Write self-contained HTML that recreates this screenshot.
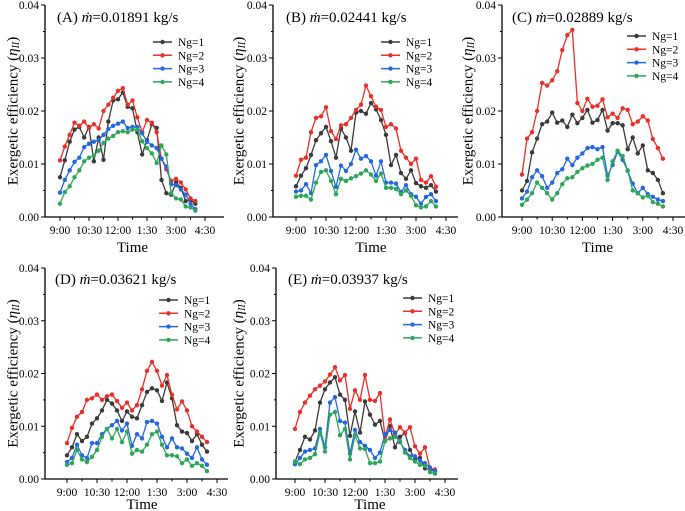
<!DOCTYPE html>
<html><head><meta charset="utf-8"><style>
html,body{margin:0;padding:0;background:#fff;}
svg{display:block;font-family:"Liberation Serif",serif;}
</style></head><body>
<svg id="chart" width="685" height="511" viewBox="0 0 685 511" xmlns="http://www.w3.org/2000/svg"></svg>
<script>
const tickLabels = ["9:00","10:30","12:00","1:30","3:00","4:30"];
const yTicks = [0,0.01,0.02,0.03,0.04];
const seriesNames = ["Ng=1","Ng=2","Ng=3","Ng=4"];
const panelTitles = ["(A) ","(B) ","(C) ","(D) ","(E) "];
const flowRates = ["0.01891","0.02441","0.02889","0.03621","0.03937"];

const A1=[0.0075,0.0107,0.0142,0.0165,0.0170,0.0150,0.0170,0.0105,0.0150,0.0108,0.0180,0.0220,0.0222,0.0235,0.0208,0.0205,0.0160,0.0118,0.0145,0.0175,0.0168,0.0070,0.0045,0.0042,0.0065,0.0055,0.0030,0.0032,0.0025];
const A2=[0.0107,0.0133,0.0155,0.0178,0.0172,0.0180,0.0168,0.0175,0.0167,0.0200,0.0212,0.0225,0.0238,0.0243,0.0212,0.0220,0.0188,0.0160,0.0183,0.0178,0.0160,0.0110,0.0090,0.0068,0.0072,0.0065,0.0052,0.0035,0.0030];
const A3=[0.0046,0.0070,0.0088,0.0104,0.0112,0.0132,0.0138,0.0142,0.0145,0.0155,0.0166,0.0172,0.0176,0.0180,0.0168,0.0170,0.0170,0.0158,0.0142,0.0135,0.0130,0.0110,0.0095,0.0062,0.0060,0.0052,0.0042,0.0025,0.0015];
const A4=[0.0025,0.0047,0.0058,0.0075,0.0088,0.0105,0.0112,0.0116,0.0125,0.0140,0.0148,0.0153,0.0160,0.0162,0.0160,0.0165,0.0165,0.0143,0.0130,0.0120,0.0102,0.0135,0.0118,0.0045,0.0035,0.0033,0.0020,0.0018,0.0012];
const B1=[0.0058,0.0078,0.0092,0.0117,0.0145,0.0158,0.0170,0.0143,0.0112,0.0167,0.0150,0.0125,0.0197,0.0200,0.0195,0.0215,0.0203,0.0183,0.0155,0.0098,0.0117,0.0083,0.0072,0.0088,0.0064,0.0058,0.0055,0.0060,0.0048];
const B2=[0.0078,0.0108,0.0112,0.0160,0.0187,0.0190,0.0207,0.0162,0.0147,0.0173,0.0175,0.0187,0.0202,0.0212,0.0248,0.0228,0.0208,0.0202,0.0170,0.0175,0.0167,0.0125,0.0112,0.0100,0.0110,0.0070,0.0065,0.0077,0.0057];
const B3=[0.0048,0.0050,0.0062,0.0045,0.0098,0.0105,0.0117,0.0087,0.0057,0.0097,0.0087,0.0100,0.0127,0.0110,0.0115,0.0105,0.0078,0.0105,0.0065,0.0065,0.0063,0.0047,0.0060,0.0043,0.0038,0.0025,0.0038,0.0043,0.0030];
const B4=[0.0038,0.0040,0.0040,0.0033,0.0065,0.0085,0.0088,0.0068,0.0043,0.0072,0.0068,0.0073,0.0077,0.0082,0.0088,0.0080,0.0068,0.0082,0.0055,0.0055,0.0053,0.0043,0.0050,0.0040,0.0022,0.0018,0.0020,0.0030,0.0020];
const C1=[0.0050,0.0068,0.0122,0.0148,0.0175,0.0180,0.0197,0.0178,0.0182,0.0170,0.0193,0.0177,0.0187,0.0202,0.0178,0.0183,0.0202,0.0163,0.0177,0.0177,0.0173,0.0128,0.0150,0.0120,0.0135,0.0088,0.0083,0.0070,0.0045];
const C2=[0.0080,0.0148,0.0160,0.0200,0.0253,0.0248,0.0258,0.0275,0.0315,0.0343,0.0353,0.0215,0.0200,0.0223,0.0208,0.0210,0.0222,0.0188,0.0195,0.0187,0.0205,0.0202,0.0175,0.0180,0.0190,0.0182,0.0147,0.0130,0.0110];
const C3=[0.0035,0.0048,0.0075,0.0088,0.0077,0.0055,0.0065,0.0083,0.0090,0.0110,0.0098,0.0112,0.0120,0.0130,0.0132,0.0128,0.0132,0.0078,0.0098,0.0123,0.0108,0.0087,0.0063,0.0045,0.0055,0.0043,0.0038,0.0033,0.0030];
const C4=[0.0023,0.0033,0.0045,0.0065,0.0055,0.0045,0.0033,0.0045,0.0062,0.0073,0.0075,0.0085,0.0092,0.0097,0.0100,0.0108,0.0112,0.0070,0.0105,0.0125,0.0115,0.0088,0.0050,0.0045,0.0037,0.0040,0.0028,0.0025,0.0020];
const D1=[0.0045,0.0060,0.0085,0.0072,0.0080,0.0105,0.0115,0.0130,0.0150,0.0143,0.0130,0.0110,0.0128,0.0118,0.0115,0.0140,0.0165,0.0172,0.0168,0.0148,0.0183,0.0153,0.0102,0.0090,0.0087,0.0072,0.0085,0.0065,0.0052];
const D2=[0.0068,0.0097,0.0118,0.0127,0.0150,0.0153,0.0160,0.0150,0.0157,0.0160,0.0148,0.0135,0.0145,0.0130,0.0140,0.0170,0.0205,0.0222,0.0205,0.0177,0.0197,0.0160,0.0132,0.0147,0.0130,0.0100,0.0090,0.0080,0.0070];
const D3=[0.0032,0.0040,0.0065,0.0045,0.0040,0.0068,0.0068,0.0085,0.0095,0.0102,0.0110,0.0092,0.0105,0.0063,0.0085,0.0077,0.0108,0.0110,0.0105,0.0080,0.0060,0.0077,0.0060,0.0058,0.0048,0.0040,0.0060,0.0037,0.0027];
const D4=[0.0027,0.0030,0.0055,0.0037,0.0032,0.0042,0.0055,0.0080,0.0095,0.0077,0.0095,0.0070,0.0090,0.0048,0.0055,0.0052,0.0065,0.0085,0.0090,0.0065,0.0045,0.0045,0.0043,0.0030,0.0037,0.0025,0.0030,0.0025,0.0015];
const E1=[0.0033,0.0055,0.0080,0.0075,0.0092,0.0145,0.0170,0.0183,0.0193,0.0160,0.0150,0.0082,0.0128,0.0088,0.0147,0.0122,0.0103,0.0110,0.0072,0.0100,0.0060,0.0080,0.0087,0.0055,0.0037,0.0040,0.0020,0.0018,0.0015];
const E2=[0.0095,0.0127,0.0145,0.0158,0.0170,0.0177,0.0185,0.0198,0.0212,0.0187,0.0197,0.0133,0.0168,0.0150,0.0197,0.0150,0.0148,0.0163,0.0080,0.0113,0.0085,0.0098,0.0088,0.0098,0.0062,0.0048,0.0060,0.0020,0.0018];
const E3=[0.0028,0.0040,0.0052,0.0055,0.0058,0.0095,0.0060,0.0145,0.0155,0.0110,0.0107,0.0048,0.0093,0.0070,0.0063,0.0055,0.0040,0.0050,0.0085,0.0093,0.0088,0.0070,0.0055,0.0043,0.0043,0.0035,0.0030,0.0022,0.0015];
const E4=[0.0033,0.0028,0.0037,0.0040,0.0047,0.0088,0.0052,0.0122,0.0127,0.0083,0.0095,0.0037,0.0083,0.0058,0.0057,0.0030,0.0030,0.0033,0.0072,0.0077,0.0080,0.0072,0.0050,0.0040,0.0033,0.0027,0.0025,0.0013,0.0010];

const panelData=[[A1,A2,A3,A4],[B1,B2,B3,B4],[C1,C2,C3,C4],[D1,D2,D3,D4],[E1,E2,E3,E4]];
const colors=["#3a3a3a","#e8302a","#2468e0","#2ea65a"];
const layouts=[
 {ax:45,x0:60,x1:205,right:224,yt:5,yb:217,lx:153,ly:42,tx:57,ty:22,yl:14,tl:252,tk:17},
 {ax:273,x0:296,x1:446,right:458,yt:5,yb:217,lx:381,ly:42,tx:286,ty:22,yl:240,tl:252,tk:17},
 {ax:502,x0:522,x1:673,right:685,yt:5,yb:217,lx:627,ly:36,tx:512,ty:22,yl:469,tl:252,tk:17},
 {ax:45,x0:67,x1:217,right:228,yt:268,yb:479,lx:159,ly:300,tx:55,ty:284,yl:14,tl:509,tk:17},
 {ax:276,x0:295,x1:445,right:458,yt:268,yb:479,lx:403,ly:298,tx:288,ty:284,yl:240,tl:509,tk:17}
];
const NS="http://www.w3.org/2000/svg";
const svg=document.getElementById('chart');
function mk(tag,attrs,parent){const e=document.createElementNS(NS,tag);for(const k in attrs)e.setAttribute(k,attrs[k]);(parent||svg).appendChild(e);return e;}

layouts.forEach((L,p)=>{
  const g=mk('g',{});
  
  
  const step=(L.x1-L.x0)/30;
  const xs=i=>L.x0+i*step;
  const ys=v=>L.yb-(v/0.04)*(L.yb-L.yt);
  const ya=mk('line',{x1:L.ax,y1:L.yt,x2:L.ax,y2:L.yb,stroke:'#000','stroke-width':1.3},g);
  
  
  const xa=mk('line',{x1:L.ax,y1:L.yb,x2:L.right,y2:L.yb,stroke:'#000','stroke-width':1.3},g);
  
  
  yTicks.forEach((t,i)=>{
    const y=ys(t);
    mk('line',{x1:L.ax-4,y1:y,x2:L.ax,y2:y,stroke:'#000','stroke-width':1},g);
    if(i<yTicks.length-1){const ym=ys(t+0.005);mk('line',{x1:L.ax-2,y1:ym,x2:L.ax,y2:ym,stroke:'#000','stroke-width':1},g);}
    const tl=mk('text',{x:L.ax-6,y:y+4,'text-anchor':'end','font-size':11.5},g);
    tl.textContent=t.toFixed(2);
    
    
  });
  tickLabels.forEach((t,i)=>{
    const x=xs(i*6);
    mk('line',{x1:x,y1:L.yb,x2:x,y2:L.yb+4,stroke:'#000','stroke-width':1},g);
    const xm=xs(i*6-3);
    if(i>0)mk('line',{x1:xm,y1:L.yb,x2:xm,y2:L.yb+2.5,stroke:'#000','stroke-width':1},g);
    const tl=mk('text',{x:x,y:L.yb+L.tk,'text-anchor':'middle','font-size':11.5},g);
    tl.textContent=t;
    
    
  });
  const xt=mk('text',{x:(L.x0+L.x1)/2,y:L.tl,'text-anchor':'middle','font-size':15},g);
  xt.textContent='Time';
  
  
  const yc=(L.yt+L.yb)/2;
  const yt=mk('text',{x:L.yl,y:yc,'text-anchor':'middle','font-size':15,transform:`rotate(-90 ${L.yl} ${yc})`,'dominant-baseline':'middle'},g);
  yt.innerHTML='Exergetic efficiency (<tspan font-style="italic">η</tspan><tspan font-style="italic" font-size="10" dy="3">II</tspan><tspan dy="-3">)</tspan>';
  
  
  const tt=mk('text',{x:L.tx,y:L.ty,'font-size':15},g);
  tt.innerHTML=panelTitles[p]+'<tspan font-style="italic">ṁ</tspan>='+flowRates[p]+' kg/s';
  
  
  panelData[p].forEach((arr,s)=>{
    const sg=mk('g',{},g);
    
    
    const pts=arr.map((v,i)=>xs(i).toFixed(1)+','+ys(v).toFixed(1)).join(' ');
    mk('polyline',{points:pts,fill:'none',stroke:colors[s],'stroke-width':1.3},sg);
    arr.forEach((v,i)=>{
      const c=mk('circle',{cx:xs(i),cy:ys(v),r:2.2,fill:colors[s]},sg);
      
      
    });
    const lg=mk('g',{},g);
    
    
    const ly=L.ly+s*13.3;
    mk('line',{x1:L.lx,y1:ly,x2:L.lx+19,y2:ly,stroke:colors[s],'stroke-width':1.5},lg);
    mk('circle',{cx:L.lx+9.5,cy:ly,r:2.2,fill:colors[s]},lg);
    const lt=mk('text',{x:L.lx+25,y:ly+4,'font-size':11.5},lg);
    lt.textContent=seriesNames[s];
  });
});
</script>
</body></html>
